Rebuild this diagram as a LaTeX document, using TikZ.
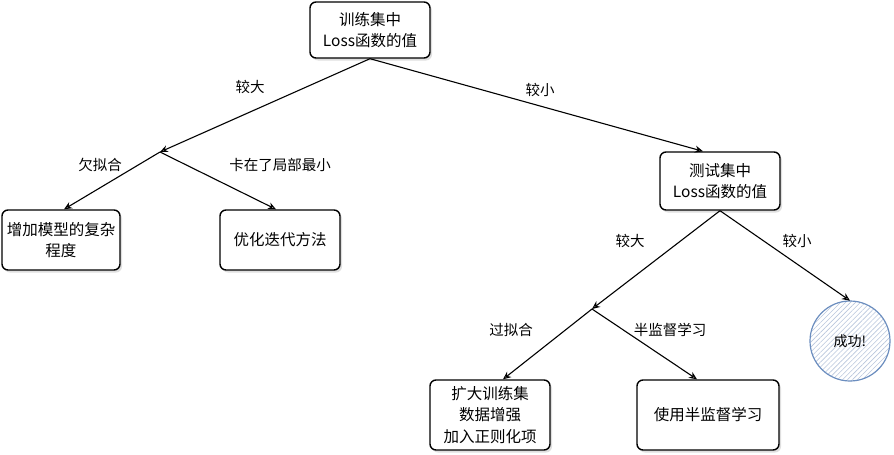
\documentclass[tikz,border=0pt]{standalone}
\usepackage{fontspec}
\setmainfont{Noto Sans CJK SC}
\usetikzlibrary{arrows.meta,patterns.meta,shadows}
\definecolor{circblue}{HTML}{6C8EBF}
\definecolor{hatch}{HTML}{B8C6DC}
\begin{document}
\begin{tikzpicture}[x=1pt,y=-1pt,
  box/.style={draw, line width=1.4pt, rounded corners=6pt, fill=white, align=center,
    inner sep=0pt, font=\fontsize{15.5}{21.5}\selectfont,
    drop shadow={shadow xshift=2pt, shadow yshift=-2.5pt, fill=gray!50, opacity=0.5}},
  lbl/.style={font=\fontsize{14.5}{17}\selectfont, inner sep=0pt},
  arr/.style={line width=1.1pt, -{Stealth[open, length=8pt, width=7pt]}}]
\useasboundingbox (0,0) rectangle (894,455);

\node[box, minimum width=120, minimum height=56] (train) at (370,30) {训练集中\\Loss函数的值};
\node[box, minimum width=118, minimum height=60] (inc) at (61,240) {增加模型的复杂\\程度};
\node[box, minimum width=120, minimum height=60] (opt) at (280,240) {优化迭代方法};
\node[box, minimum width=120, minimum height=58] (test) at (720,181) {测试集中\\Loss函数的值};
\node[box, minimum width=120, minimum height=70] (over) at (490,415) {扩大训练集\\数据增强\\加入正则化项};
\node[box, minimum width=142, minimum height=70] (semi) at (708,415) {使用半监督学习};
\node[circle, draw=circblue, line width=1.2pt, minimum size=80,
  pattern={Lines[angle=45, distance=3.5pt, line width=0.6pt]}, pattern color=hatch,
  font=\fontsize{14}{16}\selectfont] (succ) at (850,341) {成功!};

\coordinate (b1) at (160,152);
\coordinate (b2) at (592,309);

\draw[arr] (train.south) -- (b1);
\draw[arr] (train.south) -- ([xshift=-17pt]test.north);
\draw[arr] (b1) -- ([xshift=3pt]inc.north);
\draw[arr] (b1) -- ([xshift=-4pt]opt.north);
\draw[arr] (test.south) -- (b2);
\draw[arr] (test.south) -- (succ.north);
\draw[arr] (b2) -- ([xshift=13pt]over.north);
\draw[arr] (b2) -- ([xshift=-11pt]semi.north);

\node[lbl] (l1) at (250,87) {较大};
\node[lbl] (l2) at (540,90) {较小};
\node[lbl] (l3) at (100,165) {欠拟合};
\node[lbl] (l4) at (280,165) {卡在了局部最小};
\node[lbl] (l5) at (630,241) {较大};
\node[lbl] (l6) at (797,241) {较小};
\node[lbl] (l7) at (511,330) {过拟合};
\node[lbl] (l8) at (670,330) {半监督学习};
\end{tikzpicture}
\end{document}
